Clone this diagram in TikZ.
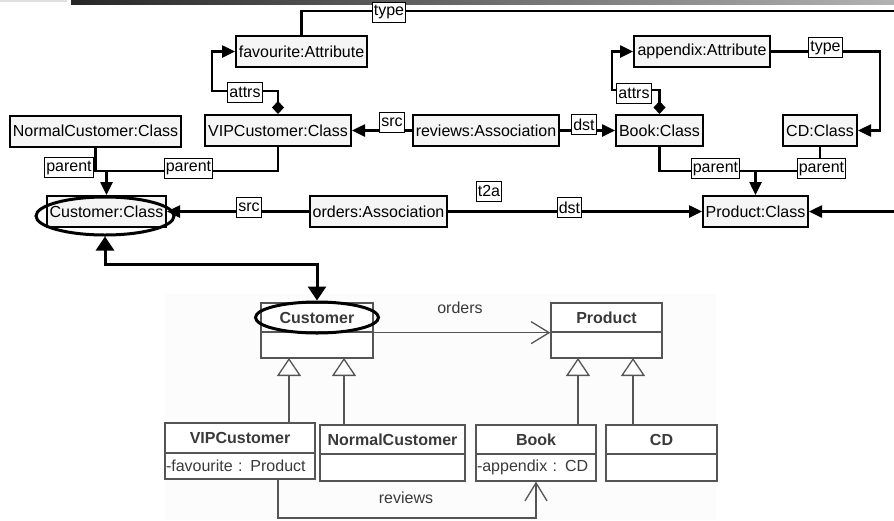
\documentclass[tikz,border=0pt]{standalone}
\usepackage{fontspec}
\setmainfont{Liberation Sans}
\usetikzlibrary{arrows.meta,shapes.geometric,calc}
\definecolor{boxfill}{HTML}{F5F5F5}
\definecolor{umlline}{HTML}{555555}
\definecolor{umltext}{HTML}{3A3A3A}
\definecolor{umlbg}{HTML}{FCFCFC}
\begin{document}
\begin{tikzpicture}[x=1pt,y=-1pt,
  objbox/.style={draw=black, line width=2pt, fill=boxfill, minimum height=31pt,
    inner sep=0pt, font=\fontsize{16}{19}\selectfont},
  rolelbl/.style={draw=black, line width=0.9pt, fill=white, minimum height=20pt,
    inner xsep=1.5pt, inner ysep=0pt, font=\fontsize{16}{19}\selectfont},
  wire/.style={line width=2.5pt},
  link/.style={line width=2.5pt, -{Triangle[length=13pt,width=12pt]}},
  attrlink/.style={line width=2.5pt, {Diamond[length=13pt,width=12pt]}-{Triangle[length=13pt,width=12pt]}},
  bigarrow/.style={line width=3pt, {Triangle[length=14pt,width=18pt]}-{Triangle[length=14pt,width=18pt]}},
  ring/.style={draw=black, ellipse, line width=3pt, inner sep=0pt},
  umlhead/.style={draw=umlline, line width=1.3pt, fill=white, inner sep=0pt,
    font=\fontsize{16}{19}\selectfont\bfseries, text=umltext},
  umlbody/.style={draw=umlline, line width=1.3pt, fill=white, inner xsep=1pt, inner ysep=0pt,
    font=\fontsize{16}{19}\selectfont, text=umltext, align=left},
  umltag/.style={font=\fontsize{16}{19}\selectfont, text=umltext, inner sep=0pt},
  gen/.style={draw=umlline, line width=1.3pt, -{Triangle[length=18pt,width=24pt,fill=white]}},
  assoc/.style={draw=umlline, line width=1.3pt, -{Straight Barb[length=18pt,width=22pt]}}
]
\useasboundingbox (0,0) rectangle (894,520);

% header strip and lower panel
\fill[black!12] (0,0) rectangle (67,1.5);
\shade[left color=black!85, right color=black!30] (71,0) rectangle (894,4.5);
\fill[umlbg] (165,294) rectangle (716,520);

% ---------- object graph: nodes ----------
\node[objbox, minimum width=131pt] (fav)  at (301.5,51.5) {favourite:Attribute};
\node[objbox, minimum width=136pt] (app)  at (702,51.5)   {appendix:Attribute};
\node[objbox, minimum width=171pt] (nc)   at (95.5,131)   {NormalCustomer:Class};
\node[objbox, minimum width=146pt] (vip)  at (278,130.5)  {VIPCustomer:Class};
\node[objbox, minimum width=146pt] (rev)  at (486,130.5)  {reviews:Association};
\node[objbox, minimum width=87pt]  (book) at (659.5,130.5){Book:Class};
\node[objbox, minimum width=74pt]  (cd)   at (820,130.5)  {CD:Class};
\node[objbox, minimum width=119pt] (cust) at (106.5,211.5){Customer:Class};
\node[objbox, minimum width=137pt] (ord)  at (378.5,211.5){orders:Association};
\node[objbox, minimum width=105pt] (prod) at (755.5,211.5){Product:Class};

% bend points and free ends
\coordinate (typeEnd) at (894,11);
\coordinate (prodIn)  at (894,211.5);
\coordinate (kA1) at (212,91);
\coordinate (kB1) at (612,90);
\coordinate (kT2) at (880,51.5);
\coordinate (jC)  at (106.5,171);
\coordinate (jP)  at (755.5,171);

% ---------- object graph: connectors ----------
\draw[wire] (fav.north) |- (typeEnd);
\draw[link] (prodIn) -- (prod.east);
\draw[attrlink] (vip.north) |- (kA1) |- (fav.west);
\draw[attrlink] (book.north) |- (kB1) |- (app.west);
\draw[link] (app.east) -- (kT2) |- (cd.east);
\draw[link] (rev.west) -- (vip.east);
\draw[link] (rev.east) -- (book.west);
\draw[wire] (nc.south) |- (jC);
\draw[wire] (vip.south) |- (jC);
\draw[link] (jC) -- (cust.north);
\draw[wire] (book.south) |- (jP);
\draw[wire] (cd.south) |- (jP);
\draw[link] (jP) -- (prod.north);
\draw[link] (ord.west) -- (cust.east);
\draw[link] (ord.east) -- (prod.west);

% ---------- role labels ----------
\node[rolelbl] (lType1)  at (389,12)     {type};
\node[rolelbl] (lAttr1)  at (245,92.5)   {attrs};
\node[rolelbl] (lAttr2)  at (634,93)     {attrs};
\node[rolelbl] (lType2)  at (825.5,47.5) {type};
\node[rolelbl] (lSrc1)   at (392,122.5)  {src};
\node[rolelbl] (lDst1)   at (584,124.5)  {dst};
\node[rolelbl] (lPar1)   at (69,167.5)   {parent};
\node[rolelbl] (lPar2)   at (188.5,168)  {parent};
\node[rolelbl] (lPar3)   at (715.5,168.5){parent};
\node[rolelbl] (lPar4)   at (821.5,168.5){parent};
\node[rolelbl] (lSrc2)   at (249,207.5)  {src};
\node[rolelbl] (lDst2)   at (569.5,207.5){dst};
\node[rolelbl] (lT2a)    at (489,191)    {t2a};

% ---------- class diagram ----------
\node[umlhead, minimum width=112pt, minimum height=29pt] (uCust)  at (317,317.5)   {Customer};
\node[umlbody, minimum width=112pt, minimum height=26pt] (uCustB) at (317,345)     {};
\node[umlhead, minimum width=111pt, minimum height=29pt] (uProd)  at (606.5,317.5) {Product};
\node[umlbody, minimum width=111pt, minimum height=26pt] (uProdB) at (606.5,345)   {};
\node[umlhead, minimum width=150pt, minimum height=30pt] (uVip)   at (240,438)     {VIPCustomer};
\node[umlbody, text width=148pt, minimum height=26pt]    (uVipB)  at (240,466)     {-favourite : Product};
\node[umlhead, minimum width=145pt, minimum height=29pt] (uNorm)  at (392.5,439.5) {NormalCustomer};
\node[umlbody, minimum width=145pt, minimum height=27pt] (uNormB) at (392.5,467.5) {};
\node[umlhead, minimum width=120pt, minimum height=29pt] (uBook)  at (536,439.5)   {Book};
\node[umlbody, text width=118pt, minimum height=27pt]    (uBookB) at (536,467.5)   {-appendix : CD};
\node[umlhead, minimum width=111pt, minimum height=29pt] (uCd)    at (661.5,439.5) {CD};
\node[umlbody, minimum width=111pt, minimum height=27pt] (uCdB)   at (661.5,467.5) {};

% generalisation arrows
\coordinate (g1) at (289,358);
\coordinate (g2) at (344,358);
\coordinate (g3) at (578,358);
\coordinate (g4) at (633,358);
\draw[gen] (g1 |- uVip.north)  -- (g1);
\draw[gen] (g2 |- uNorm.north) -- (g2);
\draw[gen] (g3 |- uBook.north) -- (g3);
\draw[gen] (g4 |- uCd.north)   -- (g4);

% associations
\draw[assoc] (uCust.south east) -- (uProd.south west);
\node[umltag] (tOrders) at (460,308) {orders};
\coordinate (rvL) at (278,518);
\coordinate (rvR) at (536,518);
\draw[assoc] (rvL |- uVipB.south) -- (rvL) -- (rvR) -- (uBookB.south);
\node[umltag] (tReviews) at (406,498) {reviews};

% ---------- highlight rings and trace link ----------
\node[ring, minimum width=138pt, minimum height=38pt] (ellA) at (105,216) {};
\node[ring, minimum width=123pt, minimum height=31pt] (ellB) at (317,317.5) {};
\coordinate (kneeC) at (317,264);
\draw[bigarrow] (ellA.south) |- (kneeC) -- (ellB.north);

\end{tikzpicture}
\end{document}
